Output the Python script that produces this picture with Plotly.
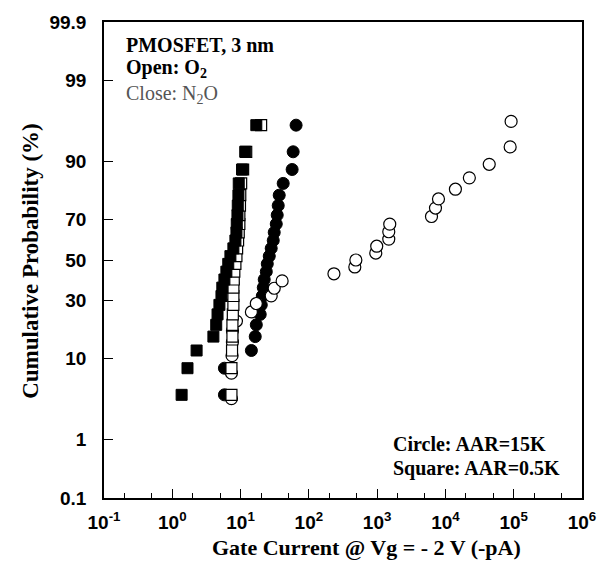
import plotly.graph_objects as go
from statistics import NormalDist

# ---------------- data ----------------
# Cumulative probability (%) for each point
prob_24 = [4, 8, 12, 16, 20, 24, 28, 32, 36, 40, 44, 48,
           52, 56, 60, 64, 68, 72, 76, 80, 84, 88, 92, 96]
prob_27 = [3.6, 7.1, 10.7, 14.3, 17.9, 21.4, 25.0, 28.6, 32.1, 35.7, 39.3, 42.9, 46.4,
           50.0, 53.6, 57.1, 60.7, 64.3, 67.9, 71.4, 75.0, 78.6, 82.1, 85.7, 89.3, 92.9, 96.4]

# Gate current (-pA)
circle_o2 = [5.8, 5.8, 14.4, 16.4, 17.0, 19.4, 20.1, 20.8, 21.5, 22.2, 23.8, 24.6,
             26.3, 28.1, 30.1, 31.1, 33.3, 34.4, 35.6, 36.8, 42.1, 56.9, 58.9, 65.0]
circle_n2o = [7.35, 7.35, 7.5, 7.6, 7.6, 8.7, 14.4, 17.0, 28.1, 31.1, 40.6, 233, 471,
              488, 955, 986, 1480, 1480, 1530, 6250, 7150, 7910, 14000, 22400, 43800,
              88700, 91600]
square_o2 = [1.37, 1.67, 2.27, 4.0, 4.4, 4.6, 4.9, 5.25, 5.4, 5.8, 6.2, 6.6,
             7.1, 7.85, 8.4, 8.7, 8.8, 9.0, 9.1, 9.3, 9.4, 10.5, 11.7, 17.0]
square_n2o = [7.35, 7.35, 7.5, 7.6, 7.6, 7.7, 7.85, 7.85, 7.85, 7.95, 8.1, 8.4,
              8.7, 8.9, 9.2, 9.4, 9.6, 9.6, 9.8, 9.9, 10.2, 10.9, 12.1, 20.0]

y_tick_labels = ["0.1", "1", "10", "30", "50", "70", "90", "99", "99.9"]
x_tick_labels = ["10<sup>-1</sup>", "10<sup>0</sup>", "10<sup>1</sup>", "10<sup>2</sup>",
                 "10<sup>3</sup>", "10<sup>4</sup>", "10<sup>5</sup>", "10<sup>6</sup>"]
x_tick_vals = [0.1, 1, 10, 100, 1000, 1e4, 1e5, 1e6]

nd = NormalDist()


def probit(percents):
    return [nd.inv_cdf(p / 100.0) for p in percents]


fig = go.Figure()

fig.add_trace(go.Scatter(x=circle_o2, y=probit(prob_24), mode="markers", name="circle O2",
                         marker=dict(symbol="circle", size=12, color="black",
                                     line=dict(color="black", width=1))))
fig.add_trace(go.Scatter(x=circle_n2o, y=probit(prob_27), mode="markers", name="circle N2O",
                         marker=dict(symbol="circle", size=12, color="white",
                                     line=dict(color="black", width=1.2))))
fig.add_trace(go.Scatter(x=square_n2o, y=probit(prob_24), mode="markers", name="square N2O",
                         marker=dict(symbol="square", size=11, color="white",
                                     line=dict(color="black", width=1.2))))
fig.add_trace(go.Scatter(x=square_o2, y=probit(prob_24), mode="markers", name="square O2",
                         marker=dict(symbol="square", size=11, color="black",
                                     line=dict(color="black", width=1))))

tick_font = dict(family="Liberation Sans, Arial, sans-serif", size=19, color="black",
                 weight="bold")

fig.update_xaxes(type="log", range=[-1, 6], tickvals=x_tick_vals,
                 ticktext=x_tick_labels,
                 ticks="inside", ticklen=9, tickwidth=1.2, tickcolor="black",
                 showline=True, linecolor="black", linewidth=1.5, mirror=True,
                 showgrid=False, zeroline=False, tickfont=tick_font,
                 ticklabelstandoff=6,
                 minor=dict(ticks="inside", ticklen=5, tickcolor="black", tickwidth=1,
                            showgrid=False))
fig.update_yaxes(range=[nd.inv_cdf(0.001), nd.inv_cdf(0.999)],
                 tickvals=probit([float(v) for v in y_tick_labels]),
                 ticktext=y_tick_labels,
                 ticks="inside", ticklen=9, tickwidth=1.2, tickcolor="black",
                 showline=True, linecolor="black", linewidth=1.5, mirror=True,
                 showgrid=False, zeroline=False, tickfont=tick_font,
                 ticklabelstandoff=12)

serif = "Liberation Serif, Times New Roman, serif"
# (text, page x, page y, size, anchor, colour, angle)
notes = [
    ("<b>Cumulative Probability (%)</b>", 30, 258, 23, "center", "black", -90),
    ("<b>Gate Current @ Vg = - 2 V (-pA)</b>", 368, 548, 22, "center", "black", 0),
    ("<b>PMOSFET, 3 nm</b>", 124, 40, 20, "left", "black", 0),
    ("<b>Open: O<sub>2</sub></b>", 124, 64, 20, "left", "black", 0),
    ("Close: N<sub>2</sub>O", 124, 90, 20, "left", "#555555", 0),
    ("<b>Circle: AAR=15K</b>", 392, 443, 20, "left", "black", 0),
    ("<b>Square: AAR=0.5K</b>", 392, 468, 20, "left", "black", 0),
]

# page-pixel plot area
PL, PT, PW, PH = 104, 17, 480, 481
for text, px, py, size, anchor, col, ang in notes:
    fig.add_annotation(x=(px - PL) / PW, y=1 - (py - PT) / PH, xref="paper", yref="paper",
                       text=text, showarrow=False, textangle=ang,
                       font=dict(family=serif, size=size, color=col),
                       xanchor=anchor, yanchor="middle")

W, H = 608, 574
fig.update_layout(width=W, height=H, autosize=False,
                  margin=dict(l=PL, r=W - PL - PW, t=PT, b=H - PT - PH),
                  paper_bgcolor="white", plot_bgcolor="white", showlegend=False)

fig.write_html("out.html", config={"displayModeBar": False},
               post_script="document.body.style.margin='0px';"
                           "document.body.style.overflow='hidden';")
